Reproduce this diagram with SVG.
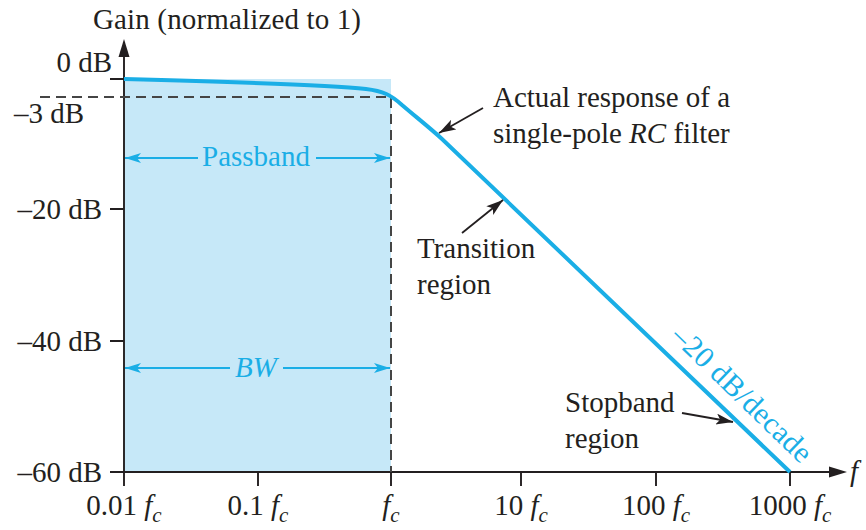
<svg xmlns="http://www.w3.org/2000/svg" width="866" height="530" viewBox="0 0 866 530">
  <style>
    text { font-family: "Liberation Serif", "Times New Roman", serif; font-size: 29px; fill: #231f20; }
    .blue { fill: #1aaee6; }
    .it { font-style: italic; }
    .sub { font-size: 21px; font-style: italic; }
    .axis { stroke: #231f20; stroke-width: 1.9; fill: none; }
    .dash { stroke: #454545; stroke-width: 2; stroke-dasharray: 10 6; fill: none; }
    .curve { stroke: #1aaee6; stroke-width: 4; fill: none; stroke-linejoin: round; }
    .dim { stroke: #1aaee6; stroke-width: 2; fill: none; }
    .lead { stroke: #231f20; stroke-width: 1.8; fill: none; }
  </style>
  <defs>
    <marker id="blueHead" viewBox="0 0 16 10" refX="16" refY="5" markerWidth="16" markerHeight="10" markerUnits="userSpaceOnUse" orient="auto">
      <path d="M0,0 L16,5 L0,10 L4,5 Z" fill="#1aaee6"/>
    </marker>
    <marker id="blackHead" viewBox="0 0 17 11" refX="17" refY="5.5" markerWidth="17" markerHeight="11" markerUnits="userSpaceOnUse" orient="auto">
      <path d="M0,0 L17,5.5 L0,11 L4,5.5 Z" fill="#231f20"/>
    </marker>
  </defs>

  <!-- shaded passband -->
  <g id="passband-area">
    <rect x="124" y="79" width="267" height="393" fill="#c6e8f8"/>
  </g>

  <!-- axes, ticks and the -3 dB guide lines -->
  <g id="axes">
    <path class="axis" d="M124,486 V54"/>
    <path d="M124,39 L129.5,57 L118.5,57 Z" fill="#231f20"/>
    <path class="axis" d="M110,472 H830"/>
    <path d="M847,472 L829,477.5 L829,466.5 Z" fill="#231f20"/>
    <path class="axis" d="M110,79 H124 M110,209 H124 M110,341 H124"/>
    <path class="axis" d="M258,472 V486 M391,472 V486 M521,472 V486 M656,472 V486 M790,472 V486"/>
    <path class="dash" d="M40,97 H391 V472"/>
  </g>

  <!-- axis labels -->
  <g id="axis-labels">
    <text x="93" y="29" textLength="268" lengthAdjust="spacing">Gain (normalized to 1)</text>
    <text x="112" y="72" text-anchor="end">0 dB</text>
    <text x="84" y="123" text-anchor="end">–3 dB</text>
    <text x="102" y="219" text-anchor="end">–20 dB</text>
    <text x="102" y="351" text-anchor="end">–40 dB</text>
    <text x="102" y="482" text-anchor="end">–60 dB</text>
    <text x="124" y="515" text-anchor="middle">0.01 <tspan class="it">f</tspan><tspan class="sub" dy="7">c</tspan></text>
    <text x="258" y="515" text-anchor="middle">0.1 <tspan class="it">f</tspan><tspan class="sub" dy="7">c</tspan></text>
    <text x="391" y="515" text-anchor="middle"><tspan class="it">f</tspan><tspan class="sub" dy="7">c</tspan></text>
    <text x="521" y="515" text-anchor="middle">10 <tspan class="it">f</tspan><tspan class="sub" dy="7">c</tspan></text>
    <text x="656" y="515" text-anchor="middle">100 <tspan class="it">f</tspan><tspan class="sub" dy="7">c</tspan></text>
    <text x="790" y="515" text-anchor="middle">1000 <tspan class="it">f</tspan><tspan class="sub" dy="7">c</tspan></text>
    <text x="850" y="481" class="it">f</text>
  </g>

  <!-- frequency response of the single-pole filter -->
  <g id="response-curve">
    <path class="curve" d="M124,79 C240,82 330,85 366,89 C383,91 391,95 402,105 C416,117 430,128 442,139 L790,472"/>
  </g>

  <!-- passband / bandwidth dimension labels -->
  <g id="passband-label">
    <text x="202" y="166" class="blue" textLength="108" lengthAdjust="spacing">Passband</text>
  </g>
  <g id="bw-label">
    <text x="235" y="377" class="blue it">BW</text>
  </g>

  <g id="actual-response-note">
    <text x="493" y="107" textLength="237" lengthAdjust="spacing">Actual response of a</text>
    <text x="493" y="143">single-pole <tspan class="it">RC</tspan> filter</text>
  </g>
  <g id="transition-note">
    <text x="417" y="258">Transition</text>
    <text x="417" y="294">region</text>
  </g>
  <g id="stopband-note">
    <text x="565" y="412">Stopband</text>
    <text x="565" y="448">region</text>
  </g>
  <g id="slope-label">
    <text class="blue" transform="translate(670,338) rotate(44)" style="font-size:30px" textLength="182" lengthAdjust="spacing">–20 dB/decade</text>
  </g>

  <!-- connectors -->
  <g id="connectors">
    <path class="dim" d="M198,158 H125" marker-end="url(#blueHead)"/>
    <path class="dim" d="M316,158 H390" marker-end="url(#blueHead)"/>
    <path class="dim" d="M230,368 H125" marker-end="url(#blueHead)"/>
    <path class="dim" d="M283,368 H390" marker-end="url(#blueHead)"/>
    <path class="lead" d="M483,108 L439,133" marker-end="url(#blackHead)"/>
    <path class="lead" d="M462,233 L503,200" marker-end="url(#blackHead)"/>
    <path class="lead" d="M682,413 L733,422" marker-end="url(#blackHead)"/>
  </g>
</svg>
